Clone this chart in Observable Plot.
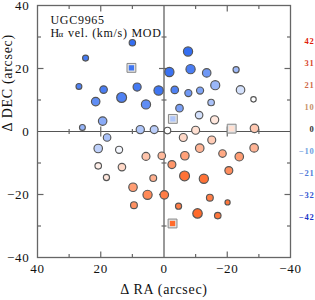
<!DOCTYPE html>
<html><head><meta charset="utf-8">
<script src="https://cdn.jsdelivr.net/npm/d3@7"></script>
<script src="https://cdn.jsdelivr.net/npm/@observablehq/plot@0.6"></script>
<style>
body{margin:0;background:#fff}
#wrap{position:relative;width:315px;height:300px}
#wrap svg text{letter-spacing:0.7px}
#leg{position:absolute;left:291px;top:0}
</style></head><body><div id="wrap"><div id="main"></div><div id="leg"></div></div>
<script>
const galaxy = "UGC9965";
const lineLabel = "H";
const lineSub = "α";
const quantity = "vel. (km/s) MOD";
const xLabel = "Δ RA (arcsec)";
const yLabel = "Δ DEC (arcsec)";

// circles: offsets (arcsec), velocity (km/s), flux (arbitrary)
const dotRA  = [10.0,24.8,26.9,19.1,21.6,13.4,8.5,5.7,1.7,25.8,19.4,7.5,3.1,18.0,20.8,14.2,
  -7.6,-1.7,-8.4,-13.5,-22.8,-3.4,-7.7,-11.4,-16.2,-24.2,-28.3,-4.9,-14.9,-11.1,-16.0,-1.1,
  -10.0,-6.1,-15.1,-28.6,-11.3,-28.5,-6.6,-18.5,-23.8,-2.5,-20.5,-6.5,-12.6,-0.1,-4.6,-14.5,
  -20.1,-10.6,-17.0,5.7,0.7,20.8,13.3,18.2,3.4,9.8,5.2,9.5];
const dotDEC = [28.2,23.3,14.3,13.3,9.5,10.8,14.1,8.6,13.0,1.3,3.3,0.6,0.6,-1.9,-5.4,-5.8,
  25.4,18.9,19.8,18.6,19.6,13.2,12.2,13.0,14.7,13.2,10.2,7.4,9.2,5.2,3.7,0.3,
  0.4,-1.9,-2.7,1.0,-5.3,-5.2,-7.7,-7.0,-8.0,-10.5,-12.4,-14.1,-15.0,-20.1,-23.7,-21.0,
  -22.5,-26.0,-26.7,-7.9,-7.7,-10.9,-11.3,-14.6,-14.8,-17.7,-20.1,-23.4];
const dotVel = [-38,-35,-33,-34,-30,-33,-35,-30,-36,-20,-22,-15,-13,-16,-12,-2,
  -38,-37,-34,-27,-18,-33,-27,-24,-19,-8,0,-25,-16,-8,6,0,
  8,10,13,14,19,19,24,22,25,27,29,36,36,33,33,33,
  35,38,35,15,18,4,10,6,20,25,30,28];
const dotFlux = [2.3,2.0,1.9,3.1,3.8,4.8,3.5,4.3,4.4,1.9,3.8,3.6,3.4,3.1,3.8,2.8,
  4.3,4.3,4.3,3.8,2.1,3.1,2.8,2.8,4.2,3.8,1.6,3.1,2.4,3.1,3.6,2.4,
  3.4,3.4,3.4,3.8,3.8,3.8,3.8,3.1,3.8,3.4,3.4,4.8,4.3,3.8,2.1,2.6,
  1.4,4.5,2.4,3.4,3.1,2.4,3.1,2.1,2.6,3.8,4.3,2.6];

// squares
const sqRA  = [10.3,-2.8,-21.4,-2.7];
const sqDEC = [20.2,4.0,0.9,-29.2];
const sqVel = [-36,-15,8,38];

const axisTicks = [40,20,0,-20,-40];
const majorTicks = [-20,20];
const minorTicks = [-30,-10,10,30];
const legendVals = [42,31,21,10,0,-10,-21,-32,-42];

const dots = dotRA.map((x,i)=>({x, y: dotDEC[i], v: dotVel[i], f: dotFlux[i]}));
const squares = sqRA.map((x,i)=>({x, y: sqDEC[i], v: sqVel[i]}));

const fmt = d => d < 0 ? "\u2212" + (-d) : String(d);
const seg = (x1,y1,x2,y2) => ({draw(ctx,size){const r=Math.sqrt(size/Math.PI);ctx.moveTo(x1*r,y1*r);ctx.lineTo(x2*r,y2*r);}});
const symUp = seg(0,0,0,-1), symDown = seg(0,0,0,1), symRight = seg(0,0,1,0), symLeft = seg(0,0,-1,0);
const symV = seg(0,-1,0,1), symH = seg(-1,0,1,0);
const tk = {fill:"none", stroke:"#666", strokeWidth:1.2};

const main = Plot.plot({
  width: 315, height: 300,
  marginLeft: 37, marginRight: 25, marginTop: 5, marginBottom: 43,
  style: {fontFamily: "Liberation Serif", fontSize: "13px", color: "#111", background: "white"},
  x: {domain: [40,-40], label: null},
  y: {domain: [-40,40], label: null},
  r: {type: "linear", domain: [1,5], range: [2.3,5.1]},
  color: {type: "linear", domain: [-42,0,42], range: ["#1f5ff0","#ffffff","#ff5a14"]},
  marks: [
    Plot.ruleY([0], {stroke:"#555", strokeWidth:1.2}),
    Plot.ruleX([0], {stroke:"#555", strokeWidth:1.2}),
    Plot.dot(majorTicks, {x: d=>d, frameAnchor:"bottom", symbol: symUp, r: 6, ...tk}),
    Plot.dot(minorTicks, {x: d=>d, frameAnchor:"bottom", symbol: symUp, r: 3.5, ...tk}),
    Plot.dot(majorTicks, {x: d=>d, frameAnchor:"top", symbol: symDown, r: 6, ...tk}),
    Plot.dot(minorTicks, {x: d=>d, frameAnchor:"top", symbol: symDown, r: 3.5, ...tk}),
    Plot.dot(majorTicks, {y: d=>d, frameAnchor:"left", symbol: symRight, r: 6, ...tk}),
    Plot.dot(minorTicks, {y: d=>d, frameAnchor:"left", symbol: symRight, r: 3.5, ...tk}),
    Plot.dot(majorTicks, {y: d=>d, frameAnchor:"right", symbol: symLeft, r: 6, ...tk}),
    Plot.dot(minorTicks, {y: d=>d, frameAnchor:"right", symbol: symLeft, r: 3.5, ...tk}),
    Plot.dot(majorTicks, {x: d=>d, y: 0, symbol: symV, r: 5, ...tk}),
    Plot.dot(minorTicks, {x: d=>d, y: 0, symbol: symV, r: 2.5, ...tk}),
    Plot.dot(majorTicks, {x: 0, y: d=>d, symbol: symH, r: 5, ...tk}),
    Plot.dot(minorTicks, {x: 0, y: d=>d, symbol: symH, r: 2.5, ...tk}),
    Plot.frame({stroke:"#666", strokeWidth:1.3}),
    Plot.axisX(axisTicks, {tickSize: 0, tickPadding: 6, tickFormat: fmt, label: null}),
    Plot.axisY(axisTicks, {tickSize: 0, tickPadding: 8, tickFormat: fmt, label: null}),
    Plot.dot(dots, {x:"x", y:"y", r:"f", fill:"v", stroke:"#555", strokeWidth:1.15}),
    Plot.dot(squares, {x:"x", y:"y", symbol:"square", r:5, fill:"#e4e4e4", stroke:"#888", strokeWidth:1}),
    Plot.dot(squares, {x:"x", y:"y", symbol:"square", r:3, fill:"v"}),
    Plot.text([galaxy], {frameAnchor:"top-left", dx:13, dy:9.8, textAnchor:"start", fontSize:12, fill:"#111"}),
    Plot.text([lineLabel], {frameAnchor:"top-left", dx:13, dy:22.5, textAnchor:"start", fontSize:12, fill:"#111"}),
    Plot.text([lineSub], {frameAnchor:"top-left", dx:21, dy:25.5, textAnchor:"start", fontSize:9, fill:"#111"}),
    Plot.text([quantity], {frameAnchor:"top-left", dx:30.5, dy:22.5, textAnchor:"start", fontSize:12, fill:"#111"}),
    Plot.text([xLabel], {frameAnchor:"bottom", dy:36, fontSize:14, fill:"#111"}),
    Plot.text([yLabel], {frameAnchor:"left", dx:-30, rotate:-90, fontSize:14, fill:"#111"})
  ]
});
document.getElementById("main").appendChild(main);

const leg = Plot.plot({
  width: 24, height: 300, margin: 0,
  style: {fontFamily: "Liberation Serif", background: "transparent"},
  y: {type: "point", domain: legendVals, range: [28.3, 230], axis: null},
  color: {type: "linear", domain: [-42,-10,0,10,42], range: ["#1a34c8","#6e9ee0","#333333","#c8906a","#e0200a"]},
  marks: [
    Plot.text(legendVals, {y: d=>d, text: fmt, frameAnchor:"right", textAnchor:"end", dx:-1, fill: d=>d, fontWeight:"bold", fontSize:8.5})
  ]
});
document.getElementById("leg").appendChild(leg);
</script></body></html>
